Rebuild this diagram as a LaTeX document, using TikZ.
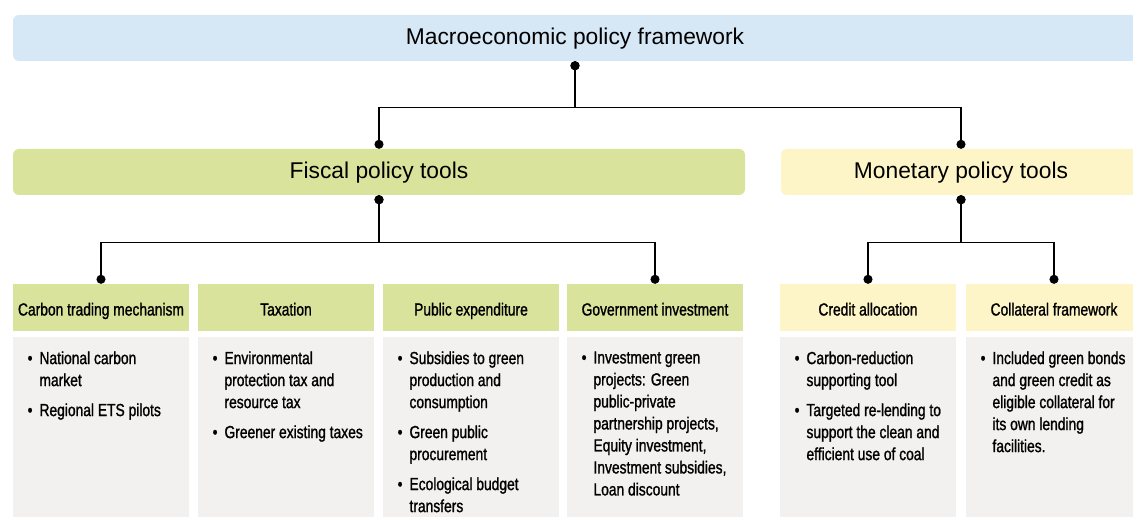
\documentclass[tikz,border=0pt]{standalone}
\usepackage{fontspec}
\setmainfont{Liberation Sans}
\newfontfamily\condfont[FakeStretch=0.79,FakeBold=1.2]{Liberation Sans}
\usetikzlibrary{positioning,arrows.meta}

\definecolor{macroblue}{HTML}{D6E7F6}
\definecolor{fiscalgreen}{HTML}{DAE39C}
\definecolor{monetaryyellow}{HTML}{FDF5C7}
\definecolor{listgrey}{HTML}{F2F1F0}

\newcommand{\toollist}[1]{%
  \makebox[150pt][l]{\parbox[c][152pt][t]{175pt}{\condfont\fontsize{17.5}{22}\selectfont\raggedright
    \begin{list}{\textbullet}{\setlength\leftmargin{13.5pt}\setlength\labelwidth{6pt}%
      \setlength\labelsep{7pt}\setlength\itemsep{8pt}%
      \setlength\parsep{0pt}\setlength\topsep{0pt}\setlength\partopsep{0pt}}#1\end{list}}}}

\begin{document}
\begin{tikzpicture}[
      x=1pt, y=-1pt,
      top node/.style={fill=macroblue, rounded corners=6pt, minimum width=1124pt, minimum height=46pt, text height=14pt, text depth=0pt, font=\fontsize{22.8}{26}\selectfont},
      tool node/.style={rounded corners=6pt, minimum height=46pt, text height=14pt, text depth=0pt, font=\fontsize{22.8}{26}\selectfont},
      sub node/.style={minimum width=176pt, minimum height=47pt, text height=16pt, text depth=0pt, font=\condfont\fontsize{17.5}{22}\selectfont},
      list node/.style={fill=listgrey, minimum width=176pt, minimum height=180pt, inner xsep=13pt, inner ysep=14pt},
      link/.style={line width=1.3pt, {Circle[length=9pt]}-{Circle[length=9pt]}}
    ]
    \path[use as bounding box, fill=white] (0,0) rectangle (1133,518);

    % Top level
    \node (macro) [top node] at (575,38) {Macroeconomic policy framework};
    \node (fiscal) [tool node, fill=fiscalgreen, minimum width=732pt] at (379,172) {Fiscal policy tools};
    \node (monetary) [tool node, fill=monetaryyellow, minimum width=360pt] at (961,172) {Monetary policy tools};

    % Fiscal tools
    \node (carbon) [sub node, fill=fiscalgreen] at (101,307.5) {Carbon trading mechanism};
    \node (taxation) [sub node, fill=fiscalgreen] at (286,307.5) {Taxation};
    \node (expenditure) [sub node, fill=fiscalgreen] at (471,307.5) {Public expenditure};
    \node (investment) [sub node, fill=fiscalgreen] at (655,307.5) {Government investment};

    % Monetary tools
    \node (credit) [sub node, fill=monetaryyellow] at (868,307.5) {Credit allocation};
    \node (collateral) [sub node, fill=monetaryyellow] at (1054,307.5) {Collateral framework};

    % Lists under each tool
    \node (carbonlist) [list node, below=6pt of carbon] {\toollist{%
      \item National carbon\\market
      \item Regional ETS pilots}};
    \node (taxationlist) [list node, below=6pt of taxation] {\toollist{%
      \item Environmental\\protection tax and\\resource tax
      \item Greener existing taxes}};
    \node (expenditurelist) [list node, below=6pt of expenditure] {\toollist{%
      \item Subsidies to green\\production and\\consumption
      \item Green public\\procurement
      \item Ecological budget\\transfers}};
    \node (investmentlist) [list node, below=6pt of investment] {\toollist{%
      \item Investment green\\projects: Green\\public-private\\partnership projects,\\Equity investment,\\Investment subsidies,\\Loan discount}};
    \node (creditlist) [list node, below=6pt of credit] {\toollist{%
      \item Carbon-reduction\\supporting tool
      \item Targeted re-lending to\\support the clean and\\efficient use of coal}};
    \node (collaterallist) [list node, below=6pt of collateral] {\toollist{%
      \item Included green bonds\\and green credit as\\eligible collateral for\\its own lending\\facilities.}};

    % Connectors
    \draw[link] (macro.south) -- ++(0,46) -| (fiscal.north);
    \draw[link] (macro.south) -- ++(0,46) -| (monetary.north);
    \draw[link] (fiscal.south) -- ++(0,47) -| (carbon.north);
    \draw[link] (fiscal.south) -- ++(0,47) -| (investment.north);
    \draw[link] (monetary.south) -- ++(0,47) -| (credit.north);
    \draw[link] (monetary.south) -- ++(0,47) -| (collateral.north);
  \end{tikzpicture}
\end{document}
